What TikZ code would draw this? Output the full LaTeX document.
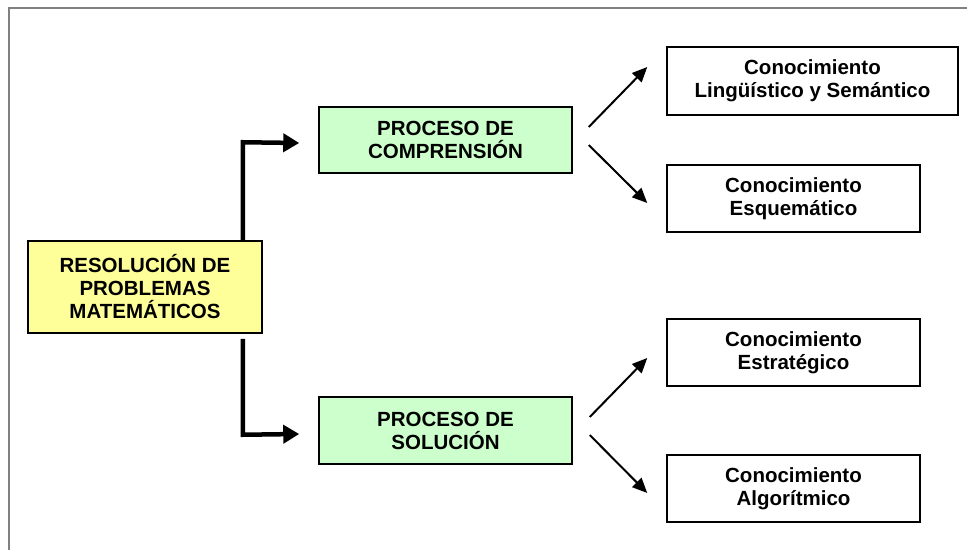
\documentclass[tikz,border=0pt]{standalone}
\usepackage{fontspec}
\setmainfont{Liberation Sans}
\usetikzlibrary{arrows.meta,calc}
\definecolor{amarillo}{HTML}{FFFF99}
\definecolor{verde}{HTML}{CCFFCC}
\tikzset{
  caja/.style={draw=black, line width=1.5pt, minimum height=67pt, align=center,
    font=\fontsize{20.5}{23}\selectfont\bfseries, inner sep=0pt},
  flechagruesa/.style={line width=4.5pt, -{Triangle[length=16pt,width=18pt]}},
  flecha/.style={line width=2pt, -{Triangle[length=15pt,width=13pt]}}
}
\begin{document}
\begin{tikzpicture}[x=1pt,y=1pt]
	\useasboundingbox (0,0) rectangle (967,550);
	\draw [gray, line width=2pt] (9,0) -- (9,542) -- (967,542);
	\node [caja, fill=amarillo, minimum width=234pt, minimum height=92pt] (res) at (145,263) {RESOLUCIÓN DE\\PROBLEMAS\\MATEMÁTICOS};
	\node [caja, fill=verde, minimum width=253pt, minimum height=66pt] (comp) at (445.5,410) {PROCESO DE\\COMPRENSIÓN};
	\node [caja, fill=verde, minimum width=253pt] (sol) at (445.5,119.5) {PROCESO DE\\SOLUCIÓN};
	\node [caja, minimum width=291pt, minimum height=68pt] (ling) at (812.5,469) {Conocimiento\\Lingüístico y Semántico};
	\node [caja, minimum width=253pt] (esq) at (793.5,351.5) {Conocimiento\\Esquemático};
	\node [caja, minimum width=253pt] (est) at (793.5,197.5) {Conocimiento\\Estratégico};
	\node [caja, minimum width=253pt] (alg) at (793.5,61.5) {Conocimiento\\Algorítmico};
	% flechas gruesas
	\draw [flechagruesa] ([xshift=-20pt]res.north east) -- ++(0,98) -- ([xshift=-19pt,yshift=-3pt]comp.west);
	\draw [flechagruesa] ([xshift=-20pt,yshift=-5pt]res.south east) -- ++(0,-96) -- ([xshift=-19pt,yshift=-3.5pt]sol.west);
	% flechas finas
	\draw [flecha] ([xshift=16pt,yshift=13pt]comp.east) -- ([xshift=-19pt,yshift=14pt]ling.west);
	\draw [flecha] ([xshift=16pt,yshift=-5pt]comp.east) -- ([xshift=-19pt,yshift=-4.5pt]esq.west);
	\draw [flecha] ([xshift=17pt,yshift=13.5pt]sol.east) -- ([xshift=-19pt,yshift=-5.5pt]est.west);
	\draw [flecha] ([xshift=17pt,yshift=-4.5pt]sol.east) -- ([xshift=-19pt,yshift=-4.5pt]alg.west);
\end{tikzpicture}
\end{document}
